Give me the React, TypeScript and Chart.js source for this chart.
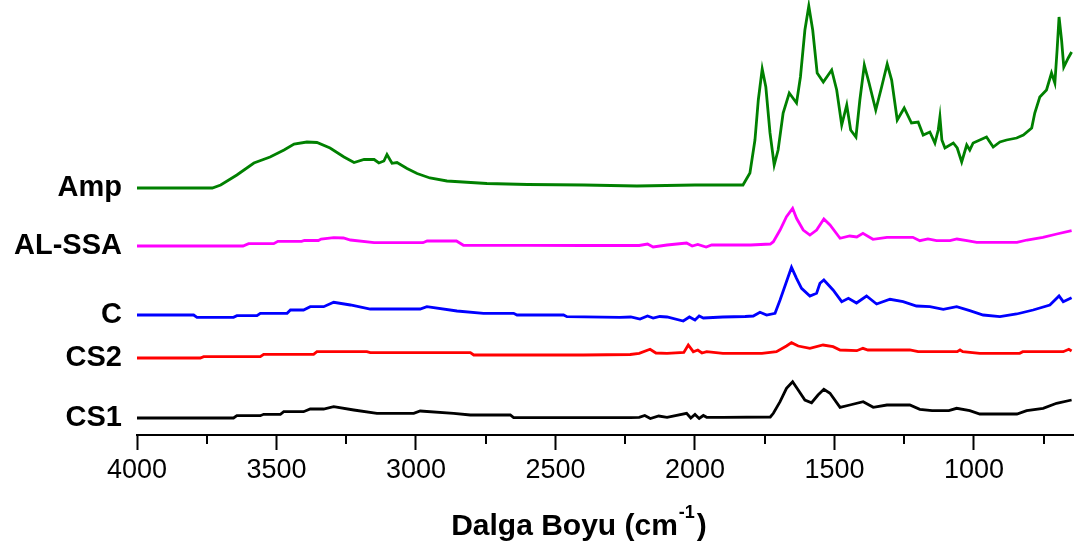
import React, { useEffect, useRef } from "react";
import { Chart, registerables } from "chart.js";

Chart.register(...registerables);

// ---- axis / layout values ----
const xMin = 645;
const xMax = 4000;
const xTicks = [4000, 3500, 3000, 2500, 2000, 1500, 1000];
const xMinorTicks = [3750, 3250, 2750, 2250, 1750, 1250, 750];
const yMin = 0;
const yMax = 435;

// ---- series labels, colours and vertical offsets ----
const seriesNames = ["Amp", "AL-SSA", "C", "CS2", "CS1"];
const seriesColors = ["#008000", "#ff00ff", "#0000ff", "#ff0000", "#000000"];
const seriesOffsets = [247, 189, 120, 77, 17];

// ---- Amp (green) ----
const ampWavenumbers = [4000, 3900, 3800, 3730, 3700, 3642, 3581, 3523, 3473, 3437, 3391, 3355, 3308, 3258, 3222, 3186, 3150, 3133, 3115, 3104, 3086, 3068, 3032, 2996, 2950, 2889, 2746, 2600, 2398, 2208, 2000, 1880, 1828, 1803, 1785, 1773, 1759, 1746, 1731, 1716, 1702, 1684, 1662, 1636, 1622, 1606, 1592, 1578, 1562, 1540, 1510, 1492, 1474, 1456, 1442, 1423, 1409, 1393, 1376, 1352, 1331, 1311, 1295, 1275, 1250, 1224, 1200, 1182, 1158, 1140, 1128, 1122, 1115, 1104, 1074, 1060, 1044, 1026, 1015, 1003, 955, 931, 907, 883, 847, 823, 793, 782, 764, 740, 722, 710, 702, 695, 686, 678, 662, 650];
const ampValues = [0, 0, 0, 0, 3, 13, 25, 31, 38, 44, 46, 45.5, 40, 31, 25.5, 28.5, 28.5, 25, 27, 33.5, 24.7, 25.5, 19.5, 14.5, 10, 7, 4.5, 3.5, 3, 2, 3, 3, 3, 15, 48, 88, 119, 101, 55, 23, 38, 75, 95, 85, 111, 158, 182, 158, 115, 106, 118, 98, 63, 83, 58, 51, 88, 123, 105, 78, 101, 124, 108, 68, 80, 65, 66, 53, 56, 45, 58, 71, 48, 40, 45, 40, 26, 43, 38, 45, 51, 41, 46, 48, 50, 53, 60, 75, 91, 98, 115, 105, 138, 171, 148, 121, 130, 136];

// ---- AL-SSA (magenta) ----
const alssaWavenumbers = [4000, 3620, 3600, 3510, 3495, 3410, 3400, 3350, 3340, 3295, 3260, 3235, 3150, 2975, 2960, 2855, 2830, 2600, 2400, 2232, 2200, 2170, 2150, 2100, 2030, 2010, 1990, 1960, 1940, 1800, 1730, 1719, 1695, 1672, 1650, 1636, 1612, 1588, 1564, 1538, 1516, 1480, 1445, 1420, 1398, 1362, 1312, 1219, 1194, 1165, 1134, 1086, 1061, 1025, 990, 846, 810, 753, 703, 650];
const alssaValues = [0, 0, 2.3, 2.3, 4.7, 4.7, 5.5, 5.5, 7, 8.3, 8, 6, 3.3, 3.3, 5, 5, 0.7, 0.7, 0.5, 0.7, 0.5, 2, -1, 1, 3, 0, 1.5, -1, 1, 1, 2, 4.3, 16, 29.3, 37.7, 27.7, 16, 11, 16, 27, 21, 7.7, 10, 9, 12.7, 6.7, 8.7, 8.7, 5.3, 7, 5.3, 5.3, 7, 5.3, 3.7, 3.7, 6, 8.7, 12, 15.3];

// ---- C (blue) ----
const cWavenumbers = [4000, 3797, 3785, 3654, 3642, 3570, 3558, 3462, 3450, 3403, 3379, 3331, 3295, 3235, 3164, 2985, 2961, 2853, 2758, 2650, 2638, 2471, 2459, 2269, 2230, 2197, 2170, 2150, 2126, 2100, 2042, 2020, 2000, 1985, 1970, 1900, 1820, 1791, 1767, 1743, 1713, 1695, 1674, 1654, 1636, 1618, 1588, 1564, 1552, 1538, 1505, 1474, 1450, 1421, 1385, 1349, 1301, 1254, 1206, 1158, 1110, 1062, 1015, 967, 907, 847, 788, 728, 695, 680, 650];
const cValues = [0, 0, -2.3, -2.3, -0.7, -0.7, 1.7, 1.7, 5, 5, 8.3, 8.3, 12.7, 10, 6, 6, 8.3, 4, 1.7, 1.7, 0, 0, -1.7, -2.3, -2, -4, -1, -3, -1.5, -2, -6, -2, -5, -1, -3, -2, -1.5, -1, 2.7, 0, 1.7, 15, 31.7, 47.7, 36.7, 26.7, 19, 21.7, 31.7, 35, 25, 13.3, 16.7, 12, 19, 11, 15.7, 13.3, 9, 8.3, 5.7, 8.3, 4.3, 0, -1.7, 1, 5, 10, 19, 13.3, 17.3];

// ---- CS2 (red) ----
const cs2Wavenumbers = [4000, 3773, 3761, 3558, 3546, 3367, 3355, 3176, 3164, 2805, 2793, 2400, 2232, 2200, 2161, 2140, 2100, 2040, 2024, 2006, 1990, 1975, 1958, 1900, 1760, 1708, 1672, 1654, 1630, 1588, 1541, 1505, 1480, 1420, 1398, 1380, 1230, 1200, 1060, 1050, 1040, 979, 836, 825, 680, 660, 650];
const cs2Values = [0, 0, 1.3, 1.3, 3.7, 3.7, 6.3, 6.3, 5.3, 5.3, 3, 3, 3.5, 4.7, 8.7, 5, 4.7, 5.5, 13, 6.3, 8, 5, 6.3, 4.7, 4.7, 6.3, 12, 15.3, 12, 9.7, 13, 11.3, 8, 7.3, 9.7, 8, 8, 6.3, 6.3, 8, 6.3, 4.7, 4.7, 6.3, 6.3, 8.7, 7];

// ---- CS1 (black) ----
const cs1Wavenumbers = [4000, 3654, 3642, 3558, 3546, 3486, 3474, 3403, 3379, 3331, 3295, 3223, 3140, 3008, 2985, 2865, 2805, 2662, 2650, 2232, 2200, 2180, 2160, 2130, 2100, 2030, 2015, 2000, 1985, 1970, 1958, 1900, 1730, 1719, 1695, 1672, 1650, 1630, 1606, 1582, 1559, 1538, 1516, 1480, 1445, 1397, 1361, 1312, 1230, 1194, 1150, 1090, 1062, 1015, 979, 846, 811, 752, 704, 650];
const cs1Values = [0, 0, 2.3, 2.3, 3.7, 3.7, 6.3, 6.3, 9, 9, 11.3, 8, 4.7, 4.7, 7, 4.7, 3, 3, 0.3, 0.3, 0.7, 2.5, -0.5, 2, 0.7, 4.7, 0, 3.5, -0.5, 2.5, 0.7, 0.7, 1, 4.7, 16.3, 29.7, 36.3, 28, 18, 15.3, 23, 28.7, 24.7, 10.7, 13, 16.3, 10.7, 13, 13, 8.7, 7.3, 7.3, 9.7, 7.3, 4, 4, 7.3, 9.7, 14.7, 18];

const seriesWavenumbers = [ampWavenumbers, alssaWavenumbers, cWavenumbers, cs2Wavenumbers, cs1Wavenumbers];
const seriesValues = [ampValues, alssaValues, cValues, cs2Values, cs1Values];

const titleMain = "Dalga Boyu (cm";
const titleSup = "-1";
const titleClose = ")";

const FONT = "'Liberation Sans', Arial, Helvetica, sans-serif";

const axisExtras = {
  id: "axisExtras",
  afterDraw(chart: any) {
    const { ctx, chartArea } = chart;
    const xs = chart.scales.x;
    ctx.save();
    // minor ticks
    ctx.strokeStyle = "#000";
    ctx.lineWidth = 2;
    ctx.beginPath();
    for (const v of xMinorTicks) {
      const px = Math.round(xs.getPixelForValue(v));
      ctx.moveTo(px, chartArea.bottom);
      ctx.lineTo(px, chartArea.bottom + 9);
    }
    ctx.stroke();
    // axis title with superscript
    ctx.fillStyle = "#000";
    ctx.textBaseline = "alphabetic";
    ctx.textAlign = "left";
    const big = `bold 30px ${FONT}`;
    const small = `bold 18px ${FONT}`;
    ctx.font = big;
    const wMain = ctx.measureText(titleMain).width;
    const wClose = ctx.measureText(titleClose).width;
    ctx.font = small;
    const wSup = ctx.measureText(titleSup).width;
    const total = wMain + wSup + wClose + 3;
    const cx = chartArea.left + 442;
    const baseY = chartArea.bottom + 100;
    let x = cx - total / 2;
    ctx.font = big;
    ctx.fillText(titleMain, x, baseY);
    x += wMain + 1;
    ctx.font = small;
    ctx.fillText(titleSup, x, baseY - 17);
    x += wSup + 2;
    ctx.font = big;
    ctx.fillText(titleClose, x, baseY);
    ctx.restore();
  },
};

export default function App() {
  const canvasRef = useRef<HTMLCanvasElement | null>(null);

  useEffect(() => {
    const canvas = canvasRef.current;
    if (!canvas) return;
    const datasets = seriesNames.map((name, s) => ({
      label: name,
      data: seriesWavenumbers[s].map((w, i) => ({ x: w, y: seriesOffsets[s] + seriesValues[s][i] })),
      borderColor: seriesColors[s],
      backgroundColor: seriesColors[s],
      borderWidth: 2.8,
      pointRadius: 0,
      tension: 0,
      fill: false,
    }));

    const chart = new Chart(canvas, {
      type: "line",
      data: { datasets },
      options: {
        animation: false,
        responsive: false,
        maintainAspectRatio: false,
        devicePixelRatio: 1,
        layout: { padding: { left: 0, right: 3, top: 0, bottom: 0 } },
        plugins: {
          legend: { display: false },
          tooltip: { enabled: false },
          title: { display: false },
        },
        scales: {
          x: {
            type: "linear",
            reverse: true,
            min: xMin,
            max: xMax,
            afterBuildTicks: (scale: any) => {
              scale.ticks = xTicks.map((v) => ({ value: v }));
            },
            afterFit: (scale: any) => {
              scale.height = 113;
              scale.paddingLeft = 0;
              scale.paddingRight = 0;
            },
            border: { display: true, color: "#000", width: 2 },
            grid: {
              drawOnChartArea: false,
              drawTicks: true,
              tickLength: 15,
              tickWidth: 2,
              tickColor: "#000",
            },
            ticks: {
              autoSkip: false,
              maxRotation: 0,
              padding: 4,
              color: "#000",
              font: { family: FONT, size: 27 },
              callback: (v: any) => String(v),
            },
          },
          y: {
            type: "linear",
            min: yMin,
            max: yMax,
            afterBuildTicks: (scale: any) => {
              scale.ticks = seriesOffsets.map((v) => ({ value: v }));
            },
            afterFit: (scale: any) => {
              scale.width = 137;
              scale.paddingTop = 0;
              scale.paddingBottom = 0;
            },
            border: { display: false },
            grid: { display: false, drawTicks: false },
            ticks: {
              autoSkip: false,
              padding: 15,
              color: "#000",
              font: { family: FONT, size: 29, weight: "bold" },
              callback: (_v: any, i: number) => seriesNames[i],
            },
          },
        },
      },
      plugins: [axisExtras],
    });

    return () => chart.destroy();
  }, []);

  return (
    <div style={{ position: "fixed", left: 0, top: 0, width: 1076, height: 548, background: "#fff" }}>
      <canvas ref={canvasRef} width={1076} height={548} style={{ display: "block" }} />
    </div>
  );
}
